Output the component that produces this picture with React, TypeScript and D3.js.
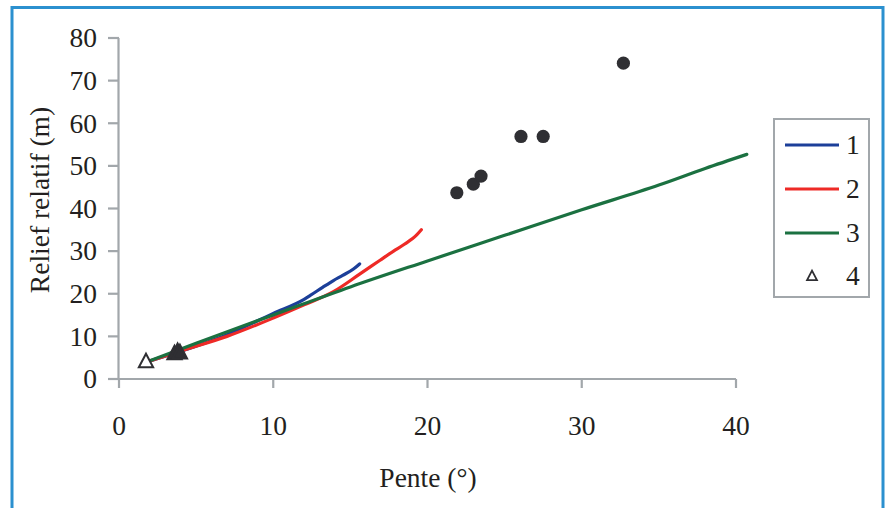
import React from "react";
import * as d3 from "d3";

const W = 887;
const H = 508;

const xTicks = [0, 10, 20, 30, 40];
const yTicks = [0, 10, 20, 30, 40, 50, 60, 70, 80];

const series1X = [1.8, 4, 7, 10, 12, 12.4, 13.2, 13.9, 14.5, 15.2, 15.6];
const series1Y = [4, 6.5, 10.4, 15.4, 18.7, 19.6, 21.5, 23.1, 24.3, 25.8, 27];

const series2X = [1.8, 4, 7, 10, 12, 13.9, 15.6, 16.9, 17.8, 18.5, 19.3, 19.6];
const series2Y = [4, 6.6, 10, 14.3, 17.4, 20.5, 24.6, 27.8, 30, 31.6, 33.8, 35];

const series3X = [1.8, 5, 10, 15, 20, 25, 30, 35, 38, 40.7];
const series3Y = [4, 8.4, 15, 21.6, 27.7, 33.7, 39.7, 45.5, 49.4, 52.7];

const triX = [1.75, 3.6, 3.8, 3.95];
const triY = [4.1, 6.0, 6.5, 6.2];

const dotX = [21.9, 22.97, 23.47, 26.06, 27.5, 32.7];
const dotY = [43.7, 45.7, 47.6, 56.9, 56.9, 74.1];

const legendLabels = ["1", "2", "3", "4"];
const colors = ["#1c3f99", "#ee2a26", "#1b7141"];

const FONT = "Liberation Serif, Times New Roman, DejaVu Serif, serif";
const AXIS = "#a2a7ab";
const FS = 27.5;

export default function App() {
  const x = d3.scaleLinear().domain([0, 40]).range([119, 736]);
  const y = d3.scaleLinear().domain([0, 80]).range([379, 38]);
  const line = d3
    .line<[number, number]>()
    .x((d) => x(d[0]))
    .y((d) => y(d[1]))
    .curve(d3.curveMonotoneX);

  const seriesData = [
    series1X.map((v, i) => [v, series1Y[i]] as [number, number]),
    series2X.map((v, i) => [v, series2Y[i]] as [number, number]),
    series3X.map((v, i) => [v, series3Y[i]] as [number, number]),
  ];

  const tri = (cx: number, cy: number, s: number) =>
    `M${cx},${cy - s * 0.6} L${cx + s * 0.55},${cy + s * 0.45} L${cx - s * 0.55},${cy + s * 0.45} Z`;

  const legendYs = [145, 189, 233, 276];

  return (
    <svg
      width={W}
      height={H}
      style={{ position: "absolute", left: 0, top: 0, background: "#fff", fontFamily: FONT }}
    >
      <rect x={0} y={0} width={W} height={H} fill="#fff" />
      <rect x={12} y={7.5} width={871} height={520} fill="none" stroke="#2b90cf" strokeWidth={3} />

      <line x1={118.5} x2={118.5} y1={38} y2={379} stroke={AXIS} strokeWidth={2.2} />
      {yTicks.map((t) => (
        <g key={"y" + t}>
          <line x1={108} x2={119} y1={y(t)} y2={y(t)} stroke={AXIS} strokeWidth={2.2} />
          <text x={97} y={y(t)} dy="0.34em" textAnchor="end" fontSize={FS} fill="#231f20">
            {t}
          </text>
        </g>
      ))}

      <line x1={118} x2={736} y1={379} y2={379} stroke={AXIS} strokeWidth={2.2} />
      {xTicks.map((t) => (
        <g key={"x" + t}>
          <line x1={x(t)} x2={x(t)} y1={379} y2={388} stroke={AXIS} strokeWidth={2.2} />
          <text x={x(t)} y={435} textAnchor="middle" fontSize={FS} fill="#231f20">
            {t}
          </text>
        </g>
      ))}

      <text x={428} y={487} textAnchor="middle" fontSize={FS} fill="#231f20">
        Pente (°)
      </text>
      <text
        transform="translate(49,200) rotate(-90)"
        textAnchor="middle"
        fontSize={FS}
        fill="#231f20"
      >
        Relief relatif (m)
      </text>

      {[0, 1, 2].map((i) => (
        <path
          key={"s" + i}
          d={line(seriesData[i]) || ""}
          fill="none"
          stroke={colors[i]}
          strokeWidth={3.2}
          strokeLinecap="round"
        />
      ))}

      {triX.map((v, i) => (
        <path
          key={"t" + i}
          d={tri(x(v), y(triY[i]), 13)}
          fill={i === 0 ? "#fff" : "#2f2f33"}
          stroke="#2f2f33"
          strokeWidth={2}
        />
      ))}

      {dotX.map((v, i) => (
        <circle key={"d" + i} cx={x(v)} cy={y(dotY[i])} r={6.6} fill="#2f2f33" />
      ))}

      <rect x={774} y={119} width={95} height={178} fill="#fff" stroke={AXIS} strokeWidth={2} />
      {legendLabels.map((lab, i) => (
        <g key={"l" + i}>
          {i < 3 ? (
            <line x1={785} x2={839} y1={legendYs[i]} y2={legendYs[i]} stroke={colors[i]} strokeWidth={3.2} />
          ) : (
            <path d={tri(812, legendYs[i], 9)} fill="#fff" stroke="#2f2f33" strokeWidth={1.8} />
          )}
          <text x={846} y={legendYs[i]} dy="0.34em" fontSize={FS} fill="#231f20">
            {lab}
          </text>
        </g>
      ))}
    </svg>
  );
}
